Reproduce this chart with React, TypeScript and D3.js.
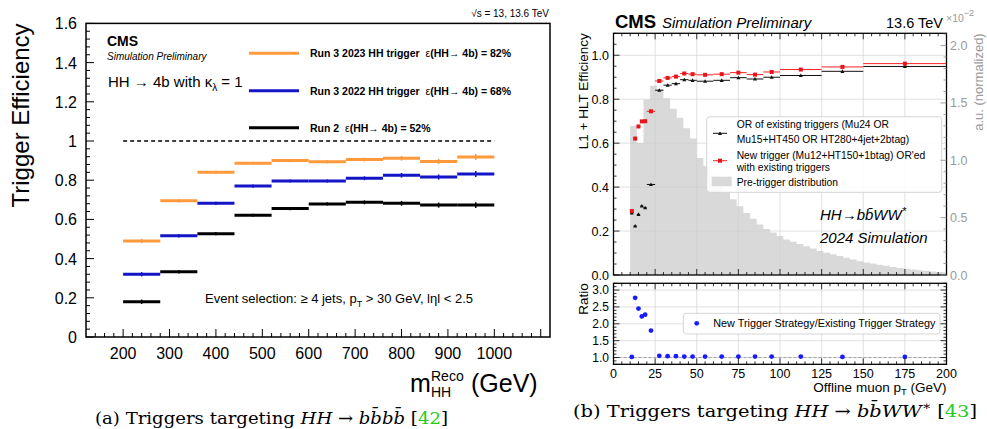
import React from 'react';
import * as d3 from 'd3';

const W = 987, H = 429;

// ---------- Panel (a) data ----------
const massEdges = [200, 280, 360, 440, 520, 600, 680, 760, 840, 920, 1000];
const eff2023 = [0.490, 0.695, 0.840, 0.886, 0.900, 0.894, 0.905, 0.912, 0.896, 0.918];
const eff2022 = [0.320, 0.517, 0.682, 0.770, 0.796, 0.796, 0.810, 0.825, 0.816, 0.832];
const effRun2 = [0.180, 0.333, 0.527, 0.621, 0.655, 0.679, 0.687, 0.682, 0.673, 0.673];
const errA = [0.006, 0.004, 0.003, 0.003, 0.003, 0.003, 0.005, 0.007, 0.008, 0.010];
const massTicks = [200, 300, 400, 500, 600, 700, 800, 900, 1000];
const effTicksA = [0, 0.2, 0.4, 0.6, 0.8, 1, 1.2, 1.4, 1.6];
const effTickLabelsA = ['0', '0.2', '0.4', '0.6', '0.8', '1', '1.2', '1.4', '1.6'];

// ---------- Panel (b) data ----------
const ptEdges = [10, 12, 14, 16, 18, 20, 25, 30, 35, 40, 45, 50, 60, 70, 80, 90, 100, 125, 150, 200];
const effExisting = [0.283, 0.223, 0.276, 0.314, 0.306, 0.412, 0.841, 0.864, 0.871, 0.889, 0.886, 0.882, 0.886, 0.898, 0.892, 0.900, 0.908, 0.927, 0.949];
const effNew = [0.291, 0.621, 0.676, 0.699, 0.700, 0.745, 0.883, 0.897, 0.903, 0.917, 0.914, 0.911, 0.914, 0.921, 0.912, 0.924, 0.935, 0.947, 0.962];
const ratioVals = [1.02, 2.77, 2.45, 2.22, 2.27, 1.80, 1.05, 1.04, 1.04, 1.03, 1.03, 1.03, 1.03, 1.03, 1.03, 1.03, 1.03, 1.02, 1.02];
const histEdges = [10, 14, 18, 22, 26, 30, 34, 38, 42, 46, 50, 54, 58, 62, 66, 70, 74, 78, 82, 86, 90, 94, 98, 102, 106, 110, 114, 118, 122, 126, 130, 134, 138, 142, 146, 150, 154, 158, 162, 166, 170, 174, 178, 182, 186, 190, 194, 198, 200];
const histVals = [1.30, 1.15, 1.53, 1.65, 1.62, 1.54, 1.45, 1.37, 1.28, 1.19, 1.02, 0.95, 0.87, 0.79, 0.72, 0.66, 0.60, 0.54, 0.49, 0.44, 0.40, 0.37, 0.34, 0.31, 0.29, 0.27, 0.25, 0.23, 0.21, 0.195, 0.18, 0.165, 0.15, 0.135, 0.12, 0.11, 0.10, 0.09, 0.08, 0.07, 0.062, 0.055, 0.048, 0.042, 0.036, 0.030, 0.026, 0.022];
const ptTicks = [0, 25, 50, 75, 100, 125, 150, 175, 200];
const effTicksB = [0, 0.2, 0.4, 0.6, 0.8, 1.0];
const histTicks = [0, 0.5, 1.0, 1.5, 2.0];
const ratioTicks = [1.0, 1.5, 2.0, 2.5, 3.0];

const SANS = 'Liberation Sans, Arial, Helvetica, sans-serif';
const SERIF = 'DejaVu Serif, Liberation Serif, serif';
const ORANGE = '#ff9a3c';
const BLUE = '#1515c8';
const GRAY_TXT = '#9a9a9a';
const NB = '\u00a0';

function range(a: number, b: number, s: number) {
  const out: number[] = [];
  for (let v = a; v <= b + 1e-9; v += s) out.push(+v.toFixed(6));
  return out;
}

function PanelA() {
  const x = d3.scaleLinear().domain([120, 1120]).range([86, 550]);
  const y = d3.scaleLinear().domain([0, 1.6]).range([337, 23.4]);
  const [x0, x1] = x.range();
  const [y0, y1] = y.range();
  const series = [
    { vals: effRun2, color: '#000' },
    { vals: eff2022, color: BLUE },
    { vals: eff2023, color: ORANGE },
  ];
  const legend = [
    { color: ORANGE, text: 'Run 3 2023 HH trigger', ly: 53.3 },
    { color: BLUE, text: 'Run 3 2022 HH trigger', ly: 90.7 },
    { color: '#000', text: 'Run 2', ly: 127.7 },
  ];
  const legPct = ['82%', '68%', '52%'];
  return (
    <g>
      <line x1={x(200)} x2={x(1000)} y1={y(1)} y2={y(1)} stroke="#000" strokeWidth={1.4} strokeDasharray="4,3" />
      {series.map((s, si) => (
        <g key={si}>
          {s.vals.map((v, i) => {
            const xc = x((massEdges[i] + massEdges[i + 1]) / 2);
            return (
              <g key={i}>
                <line x1={x(massEdges[i])} x2={x(massEdges[i + 1])} y1={y(v)} y2={y(v)} stroke={s.color} strokeWidth={3} />
                <line x1={xc} x2={xc} y1={y(v + errA[i]) - 1} y2={y(v - errA[i]) + 1} stroke={s.color} strokeWidth={1.5} />
              </g>
            );
          })}
        </g>
      ))}
      <rect x={x0} y={y1} width={x1 - x0} height={y0 - y1} fill="none" stroke="#000" strokeWidth={1.5} />
      {range(140, 1100, 20).map((t) => {
        const major = t % 100 === 0;
        return <line key={t} x1={x(t)} x2={x(t)} y1={y0} y2={y0 - (major ? 8 : 4)} stroke="#000" strokeWidth={1} />;
      })}
      {massTicks.map((t) => (
        <text key={t} x={x(t)} y={359} fontFamily={SANS} fontSize={16} textAnchor="middle">{t}</text>
      ))}
      {range(0, 1.6, 0.04).map((t, i) => {
        const major = i % 5 === 0;
        return <line key={i} x1={x0} x2={x0 + (major ? 8 : 4)} y1={y(t)} y2={y(t)} stroke="#000" strokeWidth={1} />;
      })}
      {effTicksA.map((t, i) => (
        <text key={i} x={77} y={y(t) + 6} fontFamily={SANS} fontSize={16} textAnchor="end">{effTickLabelsA[i]}</text>
      ))}
      <text transform={`translate(29,${y1}) rotate(-90)`} fontFamily={SANS} fontSize={24} textAnchor="end">Trigger Efficiency</text>
      <text x={410} y={392} fontFamily={SANS} fontSize={25}>m</text>
      <text x={431} y={381} fontFamily={SANS} fontSize={14}>Reco</text>
      <text x={431} y={397} fontFamily={SANS} fontSize={14}>HH</text>
      <text x={471} y={392} fontFamily={SANS} fontSize={25}>(GeV)</text>
      <text x={549} y={17} fontFamily={SANS} fontSize={10} textAnchor="end">√s = 13, 13.6 TeV</text>
      <text x={107} y={46} fontFamily={SANS} fontSize={14} fontWeight="bold">CMS</text>
      <text x={107} y={60} fontFamily={SANS} fontSize={10} fontStyle="italic">Simulation Preliminary</text>
      <text x={108} y={87} fontFamily={SANS} fontSize={15}>
        HH → 4b with κ<tspan fontSize={10} dy={4}>λ</tspan><tspan dy={-4}> = 1</tspan>
      </text>
      {legend.map((l, i) => (
        <g key={i}>
          <line x1={249} x2={299} y1={l.ly} y2={l.ly} stroke={l.color} strokeWidth={3} />
          <text x={310} y={l.ly + 4} fontFamily={SANS} fontSize={10.5} fontWeight="bold">
            {l.text}<tspan fontWeight="normal">{NB + NB}ε</tspan>(HH→ 4b) = {legPct[i]}
          </text>
        </g>
      ))}
      <text x={205} y={303} fontFamily={SANS} fontSize={13}>
        Event selection: ≥ 4 jets, p<tspan fontSize={9} dy={4}>T</tspan><tspan dy={-4}> &gt; 30 GeV, lηl &lt; 2.5</tspan>
      </text>
    </g>
  );
}

function triPath(cx: number, cy: number, s: number) {
  return `M${cx},${cy - s}L${cx + s},${cy + s * 0.8}L${cx - s},${cy + s * 0.8}Z`;
}

function PanelB() {
  const x = d3.scaleLinear().domain([0, 200]).range([613.5, 946.5]);
  const y = d3.scaleLinear().domain([0, 1.1]).range([275, 33.3]);
  const yh = d3.scaleLinear().domain([0, 2.107]).range([275, 33.3]);
  const yr = d3.scaleLinear().domain([0.8, 3.2]).range([364.3, 283.3]);
  const [x0, x1] = x.range();
  const histPath = (() => {
    let p = `M${x(histEdges[0])},${y(0)}`;
    histVals.forEach((v, i) => {
      p += `L${x(histEdges[i])},${yh(v)}L${x(histEdges[i + 1])},${yh(v)}`;
    });
    p += `L${x(histEdges[histEdges.length - 1])},${y(0)}Z`;
    return p;
  })();
  const centers = ptEdges.slice(0, -1).map((e, i) => (e + ptEdges[i + 1]) / 2);
  const gridCol = '#d0d0d0';
  return (
    <g>
      <path d={histPath} fill="#d9d9d9" />
      {ptTicks.slice(1, -1).map((t) => (
        <line key={t} x1={x(t)} x2={x(t)} y1={33.3} y2={275} stroke={gridCol} strokeWidth={0.8} opacity={0.8} />
      ))}
      {effTicksB.slice(1).map((t) => (
        <line key={t} x1={x0} x2={x1} y1={y(t)} y2={y(t)} stroke={gridCol} strokeWidth={0.8} opacity={0.8} />
      ))}
      {effExisting.map((v, i) => (
        <g key={'k' + i}>
          <line x1={x(ptEdges[i])} x2={x(ptEdges[i + 1])} y1={y(v)} y2={y(v)} stroke="#111" strokeWidth={1} />
          <path d={triPath(x(centers[i]), y(v), 2)} fill="#111" />
        </g>
      ))}
      {effNew.map((v, i) => (
        <g key={'r' + i}>
          <line x1={x(ptEdges[i])} x2={x(ptEdges[i + 1])} y1={y(v)} y2={y(v)} stroke="#ff2020" strokeWidth={1} />
          <rect x={x(centers[i]) - 2} y={y(v) - 2} width={4} height={4} fill="#e8141c" />
        </g>
      ))}
      <rect x={706.7} y={116.7} width={235} height={75.6} rx={3} fill="#fff" fillOpacity={0.85} stroke="#d4d4d4" strokeWidth={1} />
      <line x1={713} x2={727} y1={133.3} y2={133.3} stroke="#111" strokeWidth={1} />
      <path d={triPath(720, 133.3, 2)} fill="#111" />
      <text x={736.7} y={128} fontFamily={SANS} fontSize={10.3}>OR of existing triggers (Mu24 OR</text>
      <text x={736.7} y={142.5} fontFamily={SANS} fontSize={10.3}>Mu15+HT450 OR HT280+4jet+2btag)</text>
      <line x1={713} x2={727} y1={160.7} y2={160.7} stroke="#ff2020" strokeWidth={1} />
      <rect x={718} y={158.7} width={4} height={4} fill="#e8141c" />
      <text x={736.7} y={159} fontFamily={SANS} fontSize={10.3}>New trigger (Mu12+HT150+1btag) OR'ed</text>
      <text x={736.7} y={170.5} fontFamily={SANS} fontSize={10.3}>with existing triggers</text>
      <rect x={711.7} y={176.7} width={20} height={9.5} fill="#d9d9d9" />
      <text x={736.7} y={185.5} fontFamily={SANS} fontSize={10.3}>Pre-trigger distribution</text>
      <text x={820} y={220} fontFamily={SANS} fontSize={15} fontStyle="italic">HH→bb̄WW<tspan fontSize={11} dy={-5}>*</tspan></text>
      <text x={820} y={243} fontFamily={SANS} fontSize={15} fontStyle="italic">2024 Simulation</text>
      <rect x={x0} y={33.3} width={x1 - x0} height={275 - 33.3} fill="none" stroke="#000" strokeWidth={1.3} />
      {range(0, 200, 5).map((t) => {
        const major = t % 25 === 0;
        const L = major ? 6 : 3;
        return (
          <g key={t}>
            <line x1={x(t)} x2={x(t)} y1={275} y2={275 - L} stroke="#000" strokeWidth={0.8} />
            <line x1={x(t)} x2={x(t)} y1={33.3} y2={33.3 + L} stroke="#000" strokeWidth={0.8} />
          </g>
        );
      })}
      {range(0, 1.1, 0.05).map((t, i) => (
        <line key={i} x1={x0} x2={x0 + (i % 4 === 0 ? 6 : 3)} y1={y(t)} y2={y(t)} stroke="#000" strokeWidth={0.8} />
      ))}
      {effTicksB.map((t) => (
        <text key={t} x={609} y={y(t) + 4.5} fontFamily={SANS} fontSize={12.5} textAnchor="end">{t.toFixed(1)}</text>
      ))}
      {range(0, 2.1, 0.1).map((t, i) => (
        <line key={i} x1={x1} x2={x1 - (i % 5 === 0 ? 6 : 3)} y1={yh(t)} y2={yh(t)} stroke="#888" strokeWidth={0.8} />
      ))}
      {histTicks.map((t) => (
        <text key={t} x={950} y={yh(t) + 4.5} fontFamily={SANS} fontSize={12.5} fill={GRAY_TXT}>{t.toFixed(1)}</text>
      ))}
      <text transform={`translate(983,33.3) rotate(-90)`} fontFamily={SANS} fontSize={13} fill={GRAY_TXT} textAnchor="end">a.u. (normalized)</text>
      <text x={946} y={22} fontFamily={SANS} fontSize={10.5} fill={GRAY_TXT}>×10<tspan fontSize={9} dy={-6}>−2</tspan></text>
      <text x={615} y={28} fontFamily={SANS} fontSize={18.5} fontWeight="bold">CMS</text>
      <text x={662} y={28} fontFamily={SANS} fontSize={15} fontStyle="italic">Simulation Preliminary</text>
      <text x={943} y={28} fontFamily={SANS} fontSize={14.5} textAnchor="end">13.6 TeV</text>
      <text transform={`translate(588,33.3) rotate(-90)`} fontFamily={SANS} fontSize={13.5} textAnchor="end">L1 + HLT Efficiency</text>

      {ptTicks.slice(1, -1).map((t) => (
        <line key={t} x1={x(t)} x2={x(t)} y1={283.3} y2={364.3} stroke={gridCol} strokeWidth={0.8} opacity={0.8} />
      ))}
      {ratioTicks.map((t) => (
        <line key={t} x1={x0} x2={x1} y1={yr(t)} y2={yr(t)} stroke={gridCol} strokeWidth={0.8} opacity={0.8} />
      ))}
      <line x1={x0} x2={x1} y1={yr(1)} y2={yr(1)} stroke="#999" strokeWidth={0.9} strokeDasharray="3,2" />
      {ratioVals.map((v, i) => (
        <circle key={i} cx={x(centers[i])} cy={yr(v)} r={2.4} fill="#1a1aff" />
      ))}
      <rect x={683.3} y={313.3} width={256.7} height={20.7} rx={3} fill="#fff" fillOpacity={0.85} stroke="#d4d4d4" strokeWidth={1} />
      <circle cx={696.7} cy={323.3} r={2.4} fill="#1a1aff" />
      <text x={713.3} y={327.3} fontFamily={SANS} fontSize={10.8}>New Trigger Strategy/Existing Trigger Strategy</text>
      <rect x={x0} y={283.3} width={x1 - x0} height={81} fill="none" stroke="#000" strokeWidth={1.3} />
      {range(0, 200, 5).map((t) => {
        const major = t % 25 === 0;
        const L = major ? 6 : 3;
        return (
          <g key={t}>
            <line x1={x(t)} x2={x(t)} y1={364.3} y2={364.3 - L} stroke="#000" strokeWidth={0.8} />
            <line x1={x(t)} x2={x(t)} y1={283.3} y2={283.3 + L} stroke="#000" strokeWidth={0.8} />
          </g>
        );
      })}
      {range(0.8, 3.2, 0.1).map((t, i) => {
        const major = Math.abs((t * 2) - Math.round(t * 2)) < 1e-6;
        const L = major ? 6 : 3;
        return (
          <g key={i}>
            <line x1={x0} x2={x0 + L} y1={yr(t)} y2={yr(t)} stroke="#000" strokeWidth={0.8} />
            <line x1={x1} x2={x1 - L} y1={yr(t)} y2={yr(t)} stroke="#000" strokeWidth={0.8} />
          </g>
        );
      })}
      {ratioTicks.map((t) => (
        <text key={t} x={609} y={yr(t) + 4.3} fontFamily={SANS} fontSize={12} textAnchor="end">{t.toFixed(1)}</text>
      ))}
      {ptTicks.map((t) => (
        <text key={t} x={x(t)} y={377.5} fontFamily={SANS} fontSize={12.5} textAnchor="middle">{t}</text>
      ))}
      <text transform={`translate(588,283.3) rotate(-90)`} fontFamily={SANS} fontSize={13.5} textAnchor="end">Ratio</text>
      <text x={946.5} y={392} fontFamily={SANS} fontSize={13.5} textAnchor="end">
        Offline muon p<tspan fontSize={9.5} dy={3}>T</tspan><tspan dy={-3}> (GeV)</tspan>
      </text>
    </g>
  );
}

function Captions() {
  return (
    <g fontFamily={SERIF} fontSize={17}>
      <text x={95} y={424} textLength={353} lengthAdjust="spacingAndGlyphs">
        (a) Triggers targeting <tspan fontStyle="italic">HH</tspan> → <tspan fontStyle="italic">bb̄bb̄</tspan> [<tspan fill="#22cc22">42</tspan>]
      </text>
      <text x={573} y={417} textLength={404} lengthAdjust="spacingAndGlyphs">
        (b) Triggers targeting <tspan fontStyle="italic">HH</tspan> → <tspan fontStyle="italic">bb̄WW</tspan><tspan dy={-7} fontSize={12}>∗</tspan><tspan dy={7}> [</tspan><tspan fill="#22cc22">43</tspan>]
      </text>
    </g>
  );
}

export default function App() {
  return (
    <svg width={W} height={H} style={{ position: 'absolute', left: 0, top: 0, background: '#fff' }} xmlns="http://www.w3.org/2000/svg">
      <rect width={W} height={H} fill="#fff" />
      <PanelA />
      <PanelB />
      <Captions />
    </svg>
  );
}
